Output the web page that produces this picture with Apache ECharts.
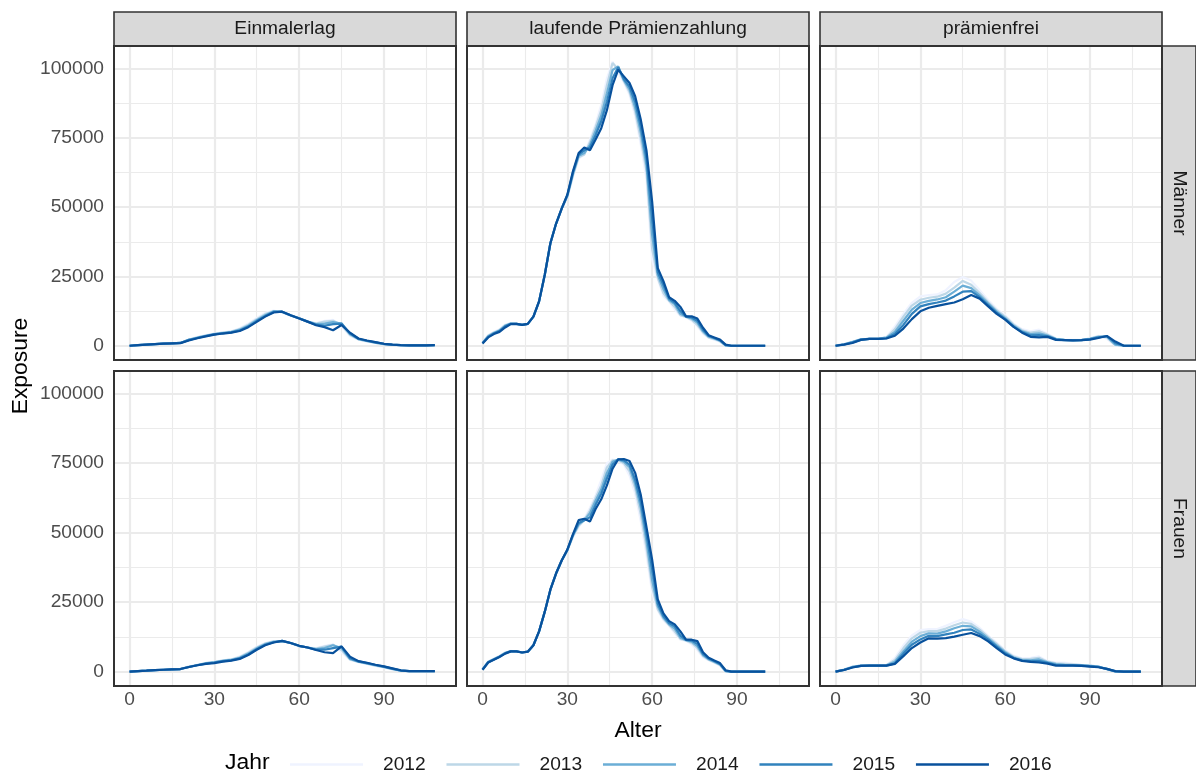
<!DOCTYPE html>
<html><head><meta charset="utf-8">
<script src="https://cdn.jsdelivr.net/npm/echarts@6/dist/echarts.min.js"></script>
<style>html,body{margin:0;padding:0;background:#fff}#c{width:1196px;height:774px}</style>
</head><body><div id="c"></div>
<script>
// ---------- data ----------
const years = ['2012', '2013', '2014', '2015', '2016'];
const colCats = ['Einmalerlag', 'laufende Prämienzahlung', 'prämienfrei'];
const rowCats = ['Männer', 'Frauen'];
const xTicks = [0, 30, 60, 90];
const xMinorTicks = [15, 45, 75, 105];
const yTicks = [0, 25000, 50000, 75000, 100000];
const yMinorTicks = [12500, 37500, 62500, 87500];

// ages (Alter) for Einmalerlag / prämienfrei panels
const agesA = [0, 3, 6, 9, 12, 15, 18, 21, 24, 27, 30, 33, 36, 39, 42, 45, 48, 51, 54, 57, 60, 63, 66, 69, 72, 75, 78, 81, 84, 87, 90, 93, 96, 99, 102, 105, 108];
// ages for laufende Prämienzahlung panels
const agesB = [0, 2, 4, 6, 8, 10, 12, 14, 16, 18, 20, 22, 24, 26, 28, 30, 32, 34, 36, 38, 40, 42, 44, 46, 48, 50, 52, 54, 56, 58, 60, 62, 64, 66, 68, 70, 72, 74, 76, 78, 80, 82, 84, 86, 88, 90, 92, 94, 96, 98, 100];

// Einmalerlag – Männer (2012..2016)
const einmalMaenner = [
  [0, 200, 400, 600, 750, 850, 1000, 2200, 3100, 3800, 4400, 4800, 5200, 6300, 8000, 10000, 11800, 12700, 12000, 10800, 9800, 8700, 8200, 9000, 9300, 7000, 3600, 2200, 1500, 1000, 500, 300, 150, 100, 100, 150, 200],
  [0, 200, 400, 600, 750, 850, 1000, 2200, 3000, 3700, 4300, 4700, 5100, 6000, 7600, 9600, 11400, 12500, 12100, 10900, 9800, 8700, 8000, 8700, 9000, 7500, 3900, 2300, 1600, 1000, 600, 300, 150, 100, 100, 150, 200],
  [0, 200, 400, 600, 750, 850, 1000, 2100, 2900, 3600, 4200, 4600, 4900, 5800, 7200, 9200, 11000, 12400, 12200, 10900, 9900, 8700, 7800, 8000, 8500, 8000, 4200, 2400, 1700, 1100, 600, 350, 200, 100, 100, 150, 200],
  [0, 200, 400, 600, 750, 850, 1000, 2100, 2800, 3500, 4100, 4500, 4800, 5500, 6900, 8900, 10700, 12200, 12300, 11000, 9900, 8700, 7600, 7200, 7800, 8000, 4400, 2500, 1800, 1200, 700, 400, 200, 100, 100, 150, 200],
  [0, 200, 400, 600, 750, 850, 950, 1900, 2700, 3400, 4000, 4400, 4700, 5300, 6700, 8600, 10500, 12000, 12300, 11000, 9800, 8700, 7400, 6700, 5600, 7500, 4700, 2600, 1900, 1300, 700, 400, 200, 100, 100, 150, 200]
];
// laufende Prämienzahlung – Männer
const laufendMaenner = [
  [1200, 3800, 5000, 5900, 7600, 8200, 7900, 7500, 7900, 10500, 16000, 25500, 37000, 44000, 49500, 53500, 61000, 67500, 69000, 74500, 80000, 87000, 96500, 102500, 98500, 95000, 90500, 83000, 72500, 60000, 31000, 24000, 18000, 16000, 13000, 10800, 10300, 9000, 7000, 4400, 2800, 2200, 1400, 0, 0, 0, 0, 0, 0, 0, 0],
  [1100, 3600, 4800, 5700, 7400, 8100, 7900, 7500, 7900, 10500, 16000, 25500, 37000, 44000, 49500, 53800, 61500, 68000, 69000, 73500, 79000, 85000, 94000, 102000, 99800, 95500, 91500, 84500, 74500, 63000, 35000, 24500, 19000, 16200, 14000, 11000, 10400, 9400, 7500, 4800, 3000, 2400, 1600, 0, 0, 0, 0, 0, 0, 0, 0],
  [1000, 3400, 4600, 5500, 7200, 8000, 7900, 7500, 7900, 10500, 16000, 25500, 37000, 44000, 49500, 54000, 62000, 68500, 69500, 72500, 77500, 83000, 91000, 99500, 100800, 95800, 92500, 86000, 77000, 65000, 40000, 25500, 20500, 16500, 15000, 11500, 10500, 9800, 8300, 5200, 3300, 2600, 1800, 100, 0, 0, 0, 0, 0, 0, 0],
  [900, 3200, 4400, 5300, 7000, 7900, 7900, 7500, 7900, 10500, 16000, 25500, 37000, 44000, 49500, 54300, 62500, 69000, 70500, 71500, 76000, 81000, 88000, 96500, 100500, 96200, 93500, 88000, 79000, 67500, 46000, 26500, 22000, 17000, 15500, 12500, 10500, 10200, 9000, 5800, 3500, 2800, 2000, 200, 0, 0, 0, 0, 0, 0, 0],
  [800, 3000, 4200, 5000, 6600, 7800, 7900, 7500, 7900, 10500, 16000, 25500, 37000, 44000, 49500, 54500, 63000, 69500, 71500, 70500, 74400, 78500, 85000, 94000, 99600, 97200, 94800, 90000, 81500, 70500, 52000, 28000, 23300, 17500, 16200, 14000, 10600, 10600, 9800, 6500, 3800, 3000, 2200, 400, 0, 0, 0, 0, 0, 0, 0]
];
// prämienfrei – Männer
const praemienfreiMaenner = [
  [100, 600, 1500, 2400, 2500, 2500, 3200, 7000, 11500, 15500, 17800, 18300, 18500, 20000, 23000, 24800, 23500, 20000, 16500, 13300, 11000, 8000, 6000, 5200, 5800, 4300, 2600, 2200, 2100, 2100, 2700, 3600, 2500, 0, 0, 0, 0],
  [50, 550, 1400, 2300, 2500, 2500, 3000, 6000, 10500, 14500, 16600, 17300, 17700, 18800, 21000, 23400, 22000, 19000, 15800, 12800, 10500, 7600, 5600, 4700, 5200, 4000, 2500, 2100, 2000, 2100, 2600, 3400, 3000, 200, 0, 0, 0],
  [0, 500, 1300, 2300, 2500, 2500, 2900, 5000, 9000, 13000, 15400, 16200, 16700, 17500, 19500, 21700, 20800, 18200, 15200, 12300, 10000, 7200, 5200, 4200, 4500, 3700, 2400, 2100, 2000, 2000, 2500, 3200, 3300, 400, 0, 0, 0],
  [0, 450, 1200, 2200, 2500, 2500, 2700, 4200, 7500, 11500, 14200, 15000, 15600, 16300, 17800, 19500, 19700, 17500, 14700, 11900, 9600, 6900, 4900, 3700, 3800, 3400, 2300, 2000, 1900, 2000, 2400, 3000, 3500, 900, 0, 0, 0],
  [0, 400, 1000, 2100, 2500, 2500, 2600, 3600, 6200, 9600, 12400, 13700, 14400, 15000, 15600, 16800, 18300, 17000, 14200, 11500, 9400, 6800, 4700, 3200, 3000, 3200, 2100, 2000, 1900, 2000, 2200, 2800, 3500, 1500, 0, 0, 0]
];
// Einmalerlag – Frauen
const einmalFrauen = [
  [0, 200, 350, 550, 700, 850, 950, 1800, 2500, 3200, 3600, 4100, 4500, 5500, 7100, 9000, 10300, 11000, 10900, 10300, 9200, 8700, 8500, 9300, 9800, 7000, 4200, 3400, 2800, 2100, 1500, 800, 300, 200, 200, 200, 200],
  [0, 200, 350, 550, 700, 850, 950, 1800, 2400, 3100, 3500, 4000, 4400, 5300, 6800, 8700, 10100, 10900, 11000, 10300, 9200, 8700, 8300, 9000, 9700, 7800, 4400, 3500, 2900, 2200, 1600, 900, 300, 200, 200, 200, 200],
  [0, 200, 350, 550, 700, 850, 950, 1700, 2400, 3000, 3400, 3900, 4300, 5000, 6500, 8400, 9900, 10700, 11000, 10300, 9300, 8700, 8100, 8500, 9500, 8500, 4600, 3600, 3000, 2300, 1700, 1000, 400, 200, 200, 200, 200],
  [0, 200, 350, 550, 700, 850, 950, 1700, 2300, 2900, 3300, 3800, 4100, 4800, 6200, 8100, 9700, 10600, 11100, 10300, 9300, 8700, 7900, 7900, 8500, 9000, 4800, 3700, 3100, 2400, 1800, 1100, 400, 200, 200, 200, 200],
  [0, 200, 350, 550, 700, 850, 950, 1700, 2300, 2800, 3100, 3600, 4000, 4600, 6000, 7900, 9500, 10500, 11100, 10300, 9300, 8700, 7800, 7000, 6700, 9100, 5400, 3800, 3200, 2500, 1900, 1200, 500, 200, 200, 200, 200]
];
// laufende Prämienzahlung – Frauen
const laufendFrauen = [
  [900, 3700, 4700, 5700, 6900, 7500, 7300, 6900, 7200, 9500, 14500, 21500, 29500, 35300, 40000, 43500, 48500, 52000, 55000, 59000, 63500, 69000, 75000, 76300, 75800, 74500, 70500, 64000, 54000, 42000, 28500, 22000, 18500, 16500, 13800, 11500, 11100, 9800, 7800, 5200, 4100, 3200, 2200, 0, 0, 0, 0, 0, 0, 0, 0],
  [850, 3600, 4600, 5600, 6800, 7400, 7300, 6900, 7200, 9500, 14500, 21500, 29500, 35300, 40000, 43600, 48700, 52500, 54500, 58000, 62500, 67000, 73500, 76000, 76000, 75000, 72000, 66000, 56500, 44500, 30500, 22500, 19000, 16800, 14500, 11800, 11200, 10300, 8500, 5600, 4300, 3400, 2400, 100, 0, 0, 0, 0, 0, 0, 0],
  [800, 3500, 4500, 5500, 6700, 7400, 7300, 6900, 7200, 9500, 14500, 21500, 29500, 35300, 40000, 43700, 49000, 53000, 54500, 57000, 61500, 65500, 71500, 75500, 76300, 75500, 73500, 67500, 59000, 47000, 33000, 23500, 19500, 17000, 15500, 12200, 11300, 10800, 9200, 6000, 4500, 3600, 2600, 200, 0, 0, 0, 0, 0, 0, 0],
  [750, 3400, 4400, 5400, 6600, 7300, 7300, 6900, 7200, 9500, 14500, 21500, 29500, 35300, 40000, 43800, 49200, 53500, 54500, 55500, 60000, 64000, 69500, 74500, 76400, 76000, 74500, 69000, 61000, 49500, 37000, 24500, 20000, 17500, 16300, 13000, 11400, 11200, 10000, 6400, 4700, 3800, 2800, 300, 0, 0, 0, 0, 0, 0, 0],
  [700, 3300, 4300, 5300, 6500, 7300, 7300, 6900, 7200, 9500, 14500, 21500, 29500, 35300, 40000, 43900, 49500, 54500, 55000, 54000, 58500, 62000, 67000, 73000, 76400, 76500, 75800, 71500, 63500, 52000, 40300, 26000, 21000, 18200, 17000, 14500, 11500, 11500, 11000, 7000, 5000, 4000, 3100, 500, 0, 0, 0, 0, 0, 0, 0]
];
// prämienfrei – Frauen
const praemienfreiFrauen = [
  [100, 800, 1900, 2200, 2200, 2200, 2400, 5000, 9500, 13000, 15000, 15300, 15300, 16500, 17800, 18900, 18000, 15800, 13000, 10500, 7800, 5800, 4800, 5000, 5500, 3800, 3300, 3300, 2800, 2500, 2300, 1900, 900, 0, 0, 0, 0],
  [50, 750, 1800, 2200, 2200, 2200, 2300, 4200, 8400, 12000, 14000, 14600, 14600, 15500, 16700, 17700, 17200, 15100, 12500, 10000, 7400, 5400, 4500, 4600, 5000, 3600, 3000, 2800, 2600, 2400, 2200, 1800, 900, 0, 0, 0, 0],
  [0, 700, 1700, 2200, 2200, 2200, 2300, 3600, 7300, 10800, 12800, 13800, 13700, 14500, 15600, 16500, 16300, 14400, 12000, 9500, 7000, 5100, 4200, 4100, 4400, 3400, 2700, 2500, 2400, 2300, 2100, 1800, 900, 100, 0, 0, 0],
  [0, 650, 1600, 2100, 2200, 2200, 2200, 3000, 6500, 9700, 11600, 12900, 12800, 13400, 14000, 15000, 15200, 13600, 11500, 9000, 6600, 4900, 4000, 3800, 3800, 3200, 2400, 2300, 2300, 2200, 2000, 1700, 1000, 100, 0, 0, 0],
  [0, 600, 1500, 2100, 2200, 2200, 2200, 2800, 5600, 8500, 10500, 12000, 11900, 12100, 12600, 13300, 13900, 12800, 10900, 8500, 6200, 4800, 3900, 3500, 3300, 2900, 2200, 2200, 2200, 2100, 1800, 1600, 1000, 200, 0, 0, 0]
];

// ---------- layout & style ----------
const colors = ['#EFF3FF', '#BDD7E7', '#6BAED6', '#3182BD', '#08519C'];
const FONT = '"Liberation Sans", Arial, Helvetica, sans-serif';
const SMALL = 19.2, BIG = 22.9;
const colLeft = [114, 467, 820];
const colW = 342;
const rowTop = [46, 371];
const rowH = [314, 315];
const xMin = -5.5, xMax = 115.5;
const yMin = -5150, yMax = 108150;

const panels = [
  { row: 0, col: 0, ages: agesA, vals: einmalMaenner },
  { row: 0, col: 1, ages: agesB, vals: laufendMaenner },
  { row: 0, col: 2, ages: agesA, vals: praemienfreiMaenner },
  { row: 1, col: 0, ages: agesA, vals: einmalFrauen },
  { row: 1, col: 1, ages: agesB, vals: laufendFrauen },
  { row: 1, col: 2, ages: agesA, vals: praemienfreiFrauen }
];

const grid = [], xAxis = [], yAxis = [], series = [];
const tickStyle = { color: '#333333', width: 2 };
panels.forEach((p, i) => {
  grid.push({ left: colLeft[p.col], top: rowTop[p.row], width: colW, height: rowH[p.row], show: false });
  xAxis.push({
    type: 'value', gridIndex: i, min: xMin, max: xMax,
    axisLine: { show: false }, splitLine: { show: false },
    axisTick: { show: p.row === 1, customValues: xTicks, length: 5.5, lineStyle: tickStyle },
    axisLabel: { show: p.row === 1, customValues: xTicks, color: '#4D4D4D', fontSize: SMALL, fontFamily: FONT, margin: 4, formatter: v => String(v) }
  });
  yAxis.push({
    type: 'value', gridIndex: i, min: yMin, max: yMax,
    axisLine: { show: false }, splitLine: { show: false },
    axisTick: { show: p.col === 0, customValues: yTicks, length: 5.5, lineStyle: tickStyle },
    axisLabel: { show: p.col === 0, customValues: yTicks, color: '#4D4D4D', fontSize: SMALL, fontFamily: FONT, margin: 10, formatter: v => String(v) }
  });
  const minorStyle = { color: '#EBEBEB', width: 1.1, type: 'solid' };
  const majorStyle = { color: '#EBEBEB', width: 2.2, type: 'solid' };
  series.push({
    type: 'line', name: 'gridlines' + i, xAxisIndex: i, yAxisIndex: i, data: [], silent: true, z: 1,
    markLine: {
      silent: true, z: 1, symbol: ['none', 'none'], animation: false, label: { show: false },
      emphasis: { disabled: true },
      data: [
        ...xMinorTicks.map(v => ({ xAxis: v, lineStyle: minorStyle })),
        ...yMinorTicks.map(v => ({ yAxis: v, lineStyle: minorStyle })),
        ...xTicks.map(v => ({ xAxis: v, lineStyle: majorStyle })),
        ...yTicks.map(v => ({ yAxis: v, lineStyle: majorStyle }))
      ]
    }
  });
  years.forEach((y, k) => {
    series.push({
      type: 'line', name: y, xAxisIndex: i, yAxisIndex: i,
      data: p.ages.map((a, j) => [a, p.vals[k][j]]),
      showSymbol: false, symbol: 'none', smooth: false, z: 2,
      lineStyle: { width: 2.2, color: colors[k] }, itemStyle: { color: colors[k] },
      emphasis: { disabled: true }
    });
  });
});

// strips, borders, titles
const graphic = [];
colLeft.forEach((x, c) => {
  graphic.push({ type: 'rect', z: 100, shape: { x: x, y: 12, width: colW, height: 34 },
    style: { fill: '#D9D9D9', stroke: '#333333', lineWidth: 1.6 } });
  graphic.push({ type: 'text', z: 101, x: x + colW / 2, y: 29,
    style: { text: colCats[c], fill: '#1A1A1A', font: SMALL + 'px ' + FONT, align: 'center', verticalAlign: 'middle' } });
});
rowTop.forEach((y, r) => {
  graphic.push({ type: 'rect', z: 100, shape: { x: 1162, y: y, width: 34, height: rowH[r] },
    style: { fill: '#D9D9D9', stroke: '#333333', lineWidth: 1.6 } });
  graphic.push({ type: 'text', z: 101, x: 1179, y: y + rowH[r] / 2, rotation: -Math.PI / 2,
    style: { text: rowCats[r], fill: '#1A1A1A', font: SMALL + 'px ' + FONT, align: 'center', verticalAlign: 'middle' } });
  colLeft.forEach(x => {
    graphic.push({ type: 'rect', z: 102, shape: { x: x, y: y, width: colW, height: rowH[r] },
      style: { fill: 'none', stroke: '#333333', lineWidth: 2 } });
  });
});
graphic.push({ type: 'text', z: 101, x: 638, y: 731,
  style: { text: 'Alter', fill: '#000000', font: BIG + 'px ' + FONT, align: 'center', verticalAlign: 'middle' } });
graphic.push({ type: 'text', z: 101, x: 21, y: 366, rotation: Math.PI / 2,
  style: { text: 'Exposure', fill: '#000000', font: BIG + 'px ' + FONT, align: 'center', verticalAlign: 'middle' } });
graphic.push({ type: 'text', z: 101, x: 225, y: 763,
  style: { text: 'Jahr', fill: '#000000', font: BIG + 'px ' + FONT, align: 'left', verticalAlign: 'middle' } });

const chart = echarts.init(document.getElementById('c'), null, { renderer: 'canvas' });
chart.setOption({
  animation: false,
  backgroundColor: '#FFFFFF',
  textStyle: { fontFamily: FONT },
  grid, xAxis, yAxis, series, graphic,
  legend: {
    data: years, left: 290, top: 755, padding: 0, orient: 'horizontal',
    icon: 'rect', itemWidth: 73, itemHeight: 2.5, itemGap: 20.8, selectedMode: false,
    textStyle: { fontSize: SMALL, color: '#1A1A1A', fontFamily: FONT, padding: [0, 0, 0, 15] }
  }
});
</script>
</body></html>
